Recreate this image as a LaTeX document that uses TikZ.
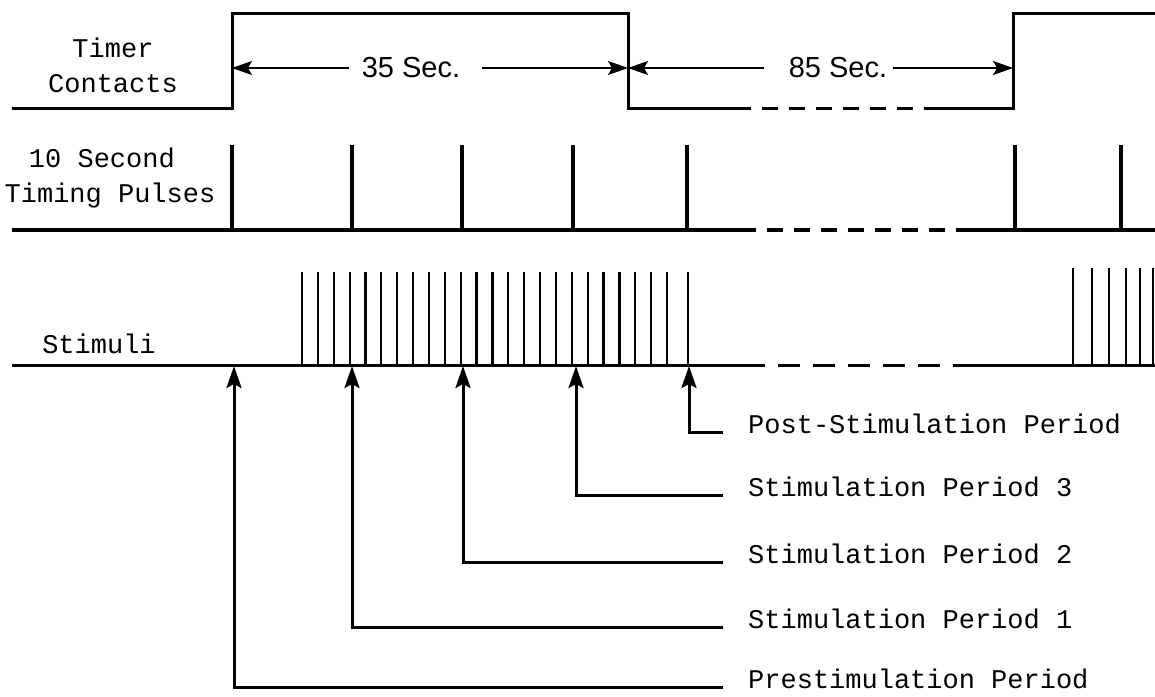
\documentclass[tikz,border=0pt]{standalone}
\usepackage{fontspec}
\setmainfont{Liberation Mono}
\newfontfamily\labsans{Liberation Sans}
\usetikzlibrary{arrows.meta}
\begin{document}
\begin{tikzpicture}[x=1pt,y=-1pt,
  wave/.style={line width=3pt, line join=miter},
  dashpart/.style={line width=3pt, dash pattern=on 16pt off 11pt},
  pulse/.style={line width=3.2pt},
  stim/.style={line width=2.2pt},
  dimarrow/.style={line width=2pt, arrows={-Stealth[length=20pt,width=14pt,inset=4pt]}},
  leadarrow/.style={line width=3pt, arrows={-Stealth[length=22pt,width=15pt,inset=4pt]}},
  lab/.style={font=\fontsize{27}{35}\selectfont, inner sep=0pt},
  per/.style={lab, anchor=west, text height=0.66em, text depth=0.4em},
  dimlab/.style={font=\labsans\fontsize{29}{32}\selectfont, inner sep=0pt}]
\useasboundingbox (0,0) rectangle (1155,696);
\fill[white] (0,0) rectangle (1155,696);

% ---------- Timer contacts ----------
\node[lab, align=center] (timer) at (113,65) {Timer\\Contacts};
\draw[wave] (12,108) -- (232,108) -- (232,13) -- (628,13) -- (628,108) -- (735,108);
\draw[dashpart] (735,108) -- (940,108);
\draw[wave] (940,108) -- (1013,108) -- (1013,13) -- (1155,13);

\coordinate (e1) at (232,68);
\coordinate (e2) at (628,68);
\coordinate (e3) at (1013,68);
\node[dimlab] (d35) at (411,68) {35 Sec.};
\node[dimlab] (d85) at (838,68) {85 Sec.};
\draw[dimarrow, shorten <=13pt] (d35.west) -- (e1);
\draw[dimarrow, shorten <=22pt] (d35.east) -- (e2);
\draw[dimarrow, shorten <=25pt] (d85.west) -- (e2);
\draw[dimarrow, shorten <=6pt] (d85.east) -- (e3);

% ---------- 10 second timing pulses ----------
\node[lab, align=center] (pulses) at (110,178) {10 Second\hphantom{x}\\Timing Pulses};
\draw[pulse] (12,230) -- (740,230);
\draw[pulse, dash pattern=on 16pt off 11pt] (740,230) -- (958,230);
\draw[pulse] (958,230) -- (1155,230);
\foreach \x in {232,352,462,573,687,1015,1121}
  \draw[pulse] (\x,230) -- (\x,145);

% ---------- Stimuli ----------
\node[lab] (stimuli) at (99,344) {Stimuli};
\draw[wave] (12,365) -- (743,365);
\draw[dashpart, dash pattern=on 22pt off 13pt] (743,365) -- (957,365);
\draw[wave] (957,365) -- (1155,365);
\foreach \i in {0,...,23}
  \draw[stim] ({302+\i*15.87},365) -- ({302+\i*15.87},272);
\draw[stim] (688,365) -- (688,272);
\foreach \x in {1073,1092,1109,1126,1140,1153}
  \draw[stim] (\x,365) -- (\x,268);

% ---------- Periods ----------
\coordinate (s0) at (234,366);
\coordinate (s1) at (352,366);
\coordinate (s2) at (463,366);
\coordinate (s3) at (576,366);
\coordinate (s4) at (689,366);

\node[per] (post) at (748,432) {Post-Stimulation Period};
\node[per] (sp3) at (748,495) {Stimulation Period 3};
\node[per] (sp2) at (748,562) {Stimulation Period 2};
\node[per] (sp1) at (748,627) {Stimulation Period 1};
\node[per] (pre) at (748,687) {Prestimulation Period};

\draw[leadarrow, shorten <=25pt] (post.west) -| (s4);
\draw[leadarrow, shorten <=25pt] (sp3.west) -| (s3);
\draw[leadarrow, shorten <=25pt] (sp2.west) -| (s2);
\draw[leadarrow, shorten <=25pt] (sp1.west) -| (s1);
\draw[leadarrow, shorten <=25pt] (pre.west) -| (s0);
\end{tikzpicture}
\end{document}
